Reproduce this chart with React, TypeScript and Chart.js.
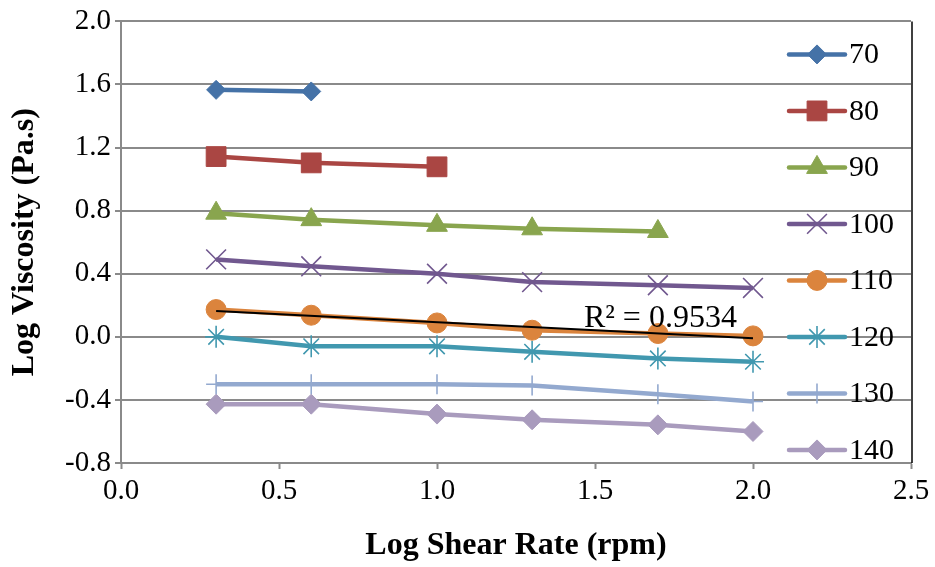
import React, { useEffect, useRef } from 'react';
import { Chart, registerables } from 'chart.js';
import { drawPoint } from 'chart.js/helpers';

Chart.register(...registerables);

// ---- data ----
const shearRate = [0.301, 0.602, 1.0, 1.301, 1.699, 2.0];
const seriesLabels = ['70', '80', '90', '100', '110', '120', '130', '140'];
const v70 = [1.566, 1.556];
const v80 = [1.143, 1.103, 1.078];
const v90 = [0.784, 0.743, 0.707, 0.685, 0.668];
const v100 = [0.491, 0.447, 0.4, 0.347, 0.327, 0.31];
const v110 = [0.173, 0.137, 0.088, 0.042, 0.021, 0.006];
const v120 = [0.0, -0.06, -0.06, -0.095, -0.137, -0.158];
const v130 = [-0.301, -0.301, -0.301, -0.309, -0.364, -0.41];
const v140 = [-0.427, -0.427, -0.49, -0.526, -0.558, -0.6];
const seriesValues = [v70, v80, v90, v100, v110, v120, v130, v140];
const seriesColors = ['#4572A7', '#AA4643', '#89A54E', '#71588F', '#DB843D', '#4198AF', '#93A9CF', '#A99BBD'];
const seriesMarkers = ['rectRot', 'rect', 'triangle', 'crossRot', 'circle', 'star', 'cross', 'rectRot'];
const markerRadius = [9.5, 14, 12, 14, 10, 11, 10, 10];
const r2Text = 'R² = 0.9534';
const r2Anchor = { x: 1.707, y: 0.06 };
const xTitle = 'Log Shear Rate (rpm)';
const yTitle = 'Log Viscosity (Pa.s)';

const FONT = "'Liberation Serif', 'Times New Roman', serif";

function linearFit(xs: number[], ys: number[]) {
  const n = ys.length;
  const x = xs.slice(0, n);
  const mx = x.reduce((a, b) => a + b, 0) / n;
  const my = ys.reduce((a, b) => a + b, 0) / n;
  let sxy = 0, sxx = 0;
  for (let i = 0; i < n; i++) { sxy += (x[i] - mx) * (ys[i] - my); sxx += (x[i] - mx) ** 2; }
  const b = sxy / sxx;
  return { a: my - b * mx, b };
}

const legendPlugin = {
  id: 'customLegend',
  afterDraw(chart: any) {
    const { ctx, chartArea } = chart;
    const x0 = chartArea.right - 122;
    ctx.save();
    chart.data.datasets.forEach((ds: any, i: number) => {
      if (ds.isTrend) return;
      const y = chartArea.top + 33 + i * 56.5;
      ctx.strokeStyle = ds.borderColor;
      ctx.lineWidth = ds.borderWidth;
      ctx.lineCap = 'round';
      ctx.beginPath();
      ctx.moveTo(x0, y);
      ctx.lineTo(x0 + 56, y);
      ctx.stroke();
      ctx.lineCap = 'butt';
      ctx.fillStyle = ds.pointBackgroundColor;
      ctx.strokeStyle = ds.pointBorderColor;
      ctx.lineWidth = ds.pointBorderWidth;
      drawPoint(ctx, { pointStyle: ds.pointStyle, radius: ds.pointRadius, rotation: 0, borderWidth: ds.pointBorderWidth } as any, x0 + 28, y);
      ctx.fillStyle = '#000';
      ctx.font = `30px ${FONT}`;
      ctx.textAlign = 'left';
      ctx.textBaseline = 'middle';
      ctx.fillText(ds.label, x0 + 60, y + 1);
    });
    // right border of plot area
    ctx.strokeStyle = '#000';
    ctx.lineWidth = 1.5;
    ctx.beginPath();
    ctx.moveTo(chartArea.right + 1, chartArea.top);
    ctx.lineTo(chartArea.right + 1, chartArea.bottom);
    ctx.stroke();
    ctx.restore();
  },
};

const r2Plugin = {
  id: 'r2Label',
  afterDatasetsDraw(chart: any) {
    const { ctx, scales } = chart;
    ctx.save();
    ctx.fillStyle = '#000';
    ctx.font = `32px ${FONT}`;
    ctx.textAlign = 'center';
    ctx.textBaseline = 'alphabetic';
    ctx.fillText(r2Text, scales.x.getPixelForValue(r2Anchor.x), scales.y.getPixelForValue(r2Anchor.y));
    ctx.restore();
  },
};

export default function App() {
  const ref = useRef<HTMLCanvasElement>(null);
  useEffect(() => {
    if (!ref.current) return;
    const datasets: any[] = seriesValues.map((vals, i) => {
      const isLineMarker = ['crossRot', 'star', 'cross'].includes(seriesMarkers[i]);
      return {
        label: seriesLabels[i],
        data: vals.map((v, j) => ({ x: shearRate[j], y: v })),
        borderColor: seriesColors[i],
        backgroundColor: seriesColors[i],
        borderWidth: 4.5,
        pointStyle: seriesMarkers[i],
        pointRadius: markerRadius[i],
        pointBackgroundColor: seriesColors[i],
        pointBorderColor: seriesColors[i],
        pointBorderWidth: isLineMarker ? 1.6 : 1,
        tension: 0,
        order: i,
      };
    });
    const fit = linearFit(shearRate, v110);
    const tx = [shearRate[0], shearRate[v110.length - 1]];
    datasets.push({
      label: 'trend',
      isTrend: true,
      data: tx.map((x) => ({ x, y: fit.a + fit.b * x })),
      borderColor: '#000',
      borderWidth: 2,
      pointRadius: 0,
      order: -1,
    });

    const chart = new Chart(ref.current, {
      type: 'line',
      data: { datasets },
      options: {
        responsive: false,
        animation: false,
        devicePixelRatio: 1,
        layout: { padding: { top: 20, right: 24, left: 0, bottom: 0 } },
        plugins: { legend: { display: false }, tooltip: { enabled: false } },
        scales: {
          x: {
            type: 'linear',
            min: 0,
            max: 2.5,
            ticks: {
              stepSize: 0.5,
              color: '#000',
              padding: 5,
              font: { family: FONT, size: 29 },
              callback: (v: any) => Number(v).toFixed(1),
            },
            grid: { drawOnChartArea: false, drawTicks: true, tickLength: 6, tickColor: '#8a8a8a', tickWidth: 2 },
            border: { color: '#8a8a8a', width: 2 },
            title: {
              display: true,
              text: xTitle,
              color: '#000',
              font: { family: FONT, size: 32, weight: 'bold', lineHeight: 1 },
              padding: { top: 0, bottom: 5 },
            },
            afterFit: (s: any) => { s.height = 104; },
          },
          y: {
            type: 'linear',
            min: -0.8,
            max: 2.0,
            ticks: {
              stepSize: 0.4,
              color: '#000',
              padding: 4,
              font: { family: FONT, size: 29 },
              callback: (v: any) => (Math.abs(Number(v)) < 1e-9 ? '0.0' : Number(v).toFixed(1)),
            },
            grid: { color: '#8a8a8a', lineWidth: 2, drawTicks: true, tickLength: 6, tickColor: '#8a8a8a', tickWidth: 2 },
            border: { color: '#8a8a8a', width: 2 },
            title: {
              display: true,
              text: yTitle,
              color: '#000',
              font: { family: FONT, size: 32, weight: 'bold', lineHeight: 1 },
              padding: { top: 9, bottom: 0 },
            },
            afterFit: (s: any) => { s.width = 121; },
          },
        },
      } as any,
      plugins: [r2Plugin, legendPlugin],
    });
    return () => chart.destroy();
  }, []);

  return (
    <div style={{ position: 'absolute', left: 0, top: 0, width: 935, height: 567, background: '#fff' }}>
      <canvas ref={ref} width={935} height={567} style={{ display: 'block' }} />
    </div>
  );
}
